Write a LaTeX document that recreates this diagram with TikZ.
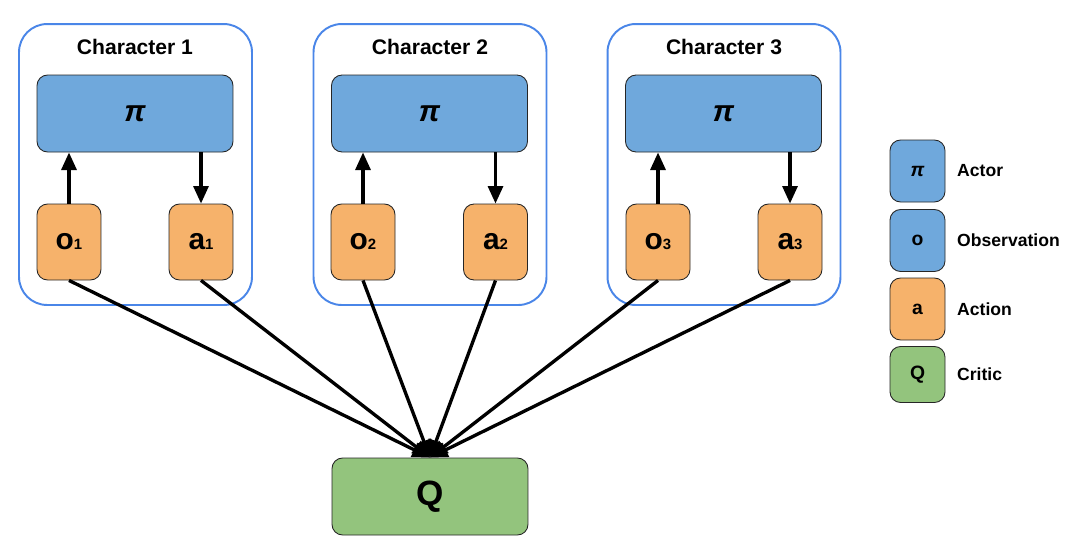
\documentclass[tikz,border=0pt]{standalone}
\usepackage{fontspec}
\setmainfont{Liberation Sans}
\usepackage{xcolor}
\usetikzlibrary{arrows.meta,positioning}

\definecolor{actorblue}{HTML}{6FA8DC}
\definecolor{actionorange}{HTML}{F6B26B}
\definecolor{criticgreen}{HTML}{93C47D}
\definecolor{frameblue}{HTML}{4A86E8}

\tikzset{
  charbox/.style={rectangle,rounded corners=16pt,draw=frameblue,line width=1.1pt,minimum width=4.66cm,minimum height=5.62cm},
  pibox/.style={rectangle,rounded corners=6pt,draw=black!85,fill=actorblue,line width=0.5pt,minimum width=3.92cm,minimum height=1.54cm},
  obsbox/.style={rectangle,rounded corners=6pt,draw=black!85,fill=actionorange,line width=0.5pt,minimum width=1.28cm,minimum height=1.52cm},
  keybox/.style={rectangle,rounded corners=6pt,draw=black!85,line width=0.5pt,minimum width=1.1cm,minimum height=1.24cm,font=\fontsize{11}{13}\selectfont\bfseries},
  keytext/.style={anchor=west,font=\fontsize{10}{12}\selectfont\bfseries},
  title/.style={font=\fontsize{12}{14}\selectfont\bfseries},
  link/.style={line width=1.9pt,-{Triangle[length=10pt,width=8.5pt]}}
}
\newcommand{\sym}[2]{{\fontsize{17}{19}\selectfont\bfseries #1}{\fontsize{8.5}{9}\selectfont\bfseries #2}}
\newcommand{\pisym}{{\fontsize{17}{19}\selectfont\bfseries\itshape π}}

\begin{document}
\begin{tikzpicture}[x=0.02cm,y=-0.02cm]
  \useasboundingbox (0,0) rectangle (1087,552);

  % character 1
  \node[charbox] (c1) at (135.5,164.5){};
  \node[title] (t1) at (135,47){Character 1};
  \node[pibox] (pi1) at (135,113.5){\pisym};
  \node[obsbox] (o1) at (69,242){\sym{o}{1}};
  \node[obsbox] (a1) at (201,242){\sym{a}{1}};
  \draw[link] (o1.north) -- (o1.north |- pi1.south);
  \draw[link] (pi1.south -| a1.north) -- (a1.north);

  % character 2
  \node[charbox] (c2) at (430,164.5){};
  \node[title] (t2) at (430,47){Character 2};
  \node[pibox] (pi2) at (429.5,113.5){\pisym};
  \node[obsbox] (o2) at (363,242){\sym{o}{2}};
  \node[obsbox] (a2) at (495.5,242){\sym{a}{2}};
  \draw[link] (o2.north) -- (o2.north |- pi2.south);
  \draw[link] (pi2.south -| a2.north) -- (a2.north);

  % character 3
  \node[charbox] (c3) at (724,164.5){};
  \node[title] (t3) at (724,47){Character 3};
  \node[pibox] (pi3) at (723.5,113.5){\pisym};
  \node[obsbox] (o3) at (658,242){\sym{o}{3}};
  \node[obsbox] (a3) at (790,242){\sym{a}{3}};
  \draw[link] (o3.north) -- (o3.north |- pi3.south);
  \draw[link] (pi3.south -| a3.north) -- (a3.north);

  % critic
  \node[pibox,fill=criticgreen] (q) at (430,496.5){\fontsize{20}{22}\selectfont\bfseries Q};
  \draw[link] (o1.south) -- (q.north);
  \draw[link] (a1.south) -- (q.north);
  \draw[link] (o2.south) -- (q.north);
  \draw[link] (a2.south) -- (q.north);
  \draw[link] (o3.south) -- (q.north);
  \draw[link] (a3.south) -- (q.north);

  % legend
  \node[keybox,fill=actorblue] (kpi) at (917.5,171){\itshape π};
  \node[keybox,fill=actorblue] (ko) at (917.5,240.5){o};
  \node[keybox,fill=actionorange] (ka) at (917.5,309){a};
  \node[keybox,fill=criticgreen,minimum height=1.12cm] (kq) at (917.5,374.5){Q};
  \node[keytext] (lpi) at (951,171){Actor};
  \node[keytext] (lo) at (951,240.5){Observation};
  \node[keytext] (la) at (951,309){Action};
  \node[keytext] (lq) at (951,374.5){Critic};
\end{tikzpicture}
\end{document}
